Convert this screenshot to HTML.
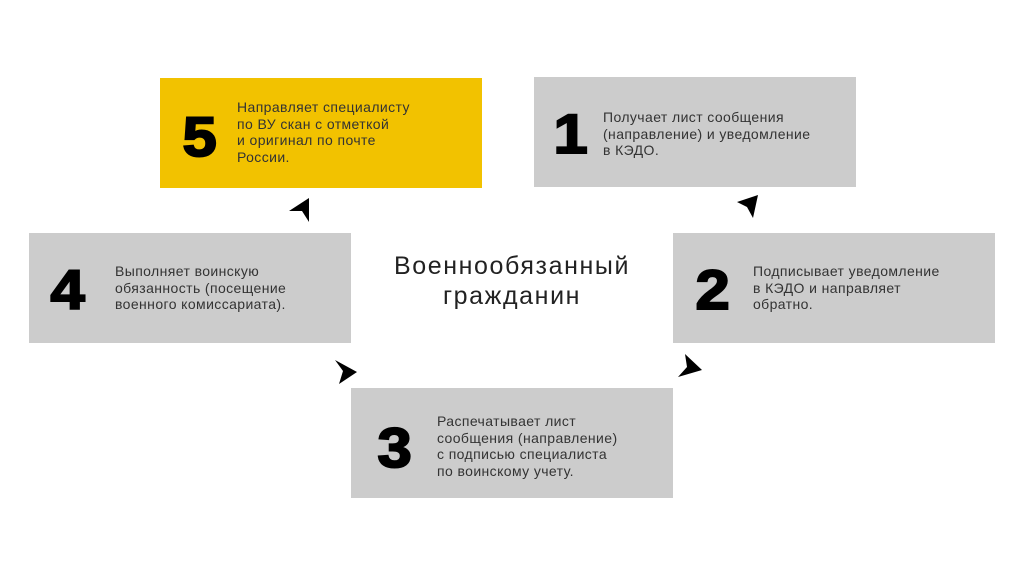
<!DOCTYPE html>
<html><head><meta charset="utf-8"><style>
body{margin:0;width:1024px;height:576px;background:#fff;position:relative;overflow:hidden;font-family:"Liberation Sans","DejaVu Sans",sans-serif}
.b{position:absolute;width:322px;height:110px;background:#cccccc}
.y{background:#f2c200}
.n{position:absolute;font-weight:bold;font-size:56px;color:#000;line-height:56px;transform:scaleX(1.1);-webkit-text-stroke:2px #000}
.t{position:absolute;font-size:14px;letter-spacing:0.4px;line-height:16.6px;color:#333;white-space:nowrap}
.c{position:absolute;left:311px;width:402px;top:251px;text-align:center;font-size:25px;line-height:30px;color:#222;letter-spacing:1.6px}
</style></head><body>
<div class="b y" style="left:160px;top:78px"></div>
<div class="b" style="left:534px;top:77px"></div>
<div class="b" style="left:29px;top:233px"></div>
<div class="b" style="left:673px;top:233px"></div>
<div class="b" style="left:351px;top:388px"></div>

<div class="n" style="left:184px;top:109px">5</div>
<div class="t" style="left:237px;top:99px">Направляет специалисту<br>по ВУ скан с отметкой<br>и оригинал по почте<br>России.</div>

<div class="n" style="left:555px;top:106px">1</div>
<div class="t" style="left:603px;top:109px">Получает лист сообщения<br>(направление) и уведомление<br>в КЭДО.</div>

<div class="n" style="left:52px;top:262px">4</div>
<div class="t" style="left:115px;top:263px">Выполняет воинскую<br>обязанность (посещение<br>военного комиссариата).</div>

<div class="n" style="left:697px;top:262px">2</div>
<div class="t" style="left:753px;top:263px">Подписывает уведомление<br>в КЭДО и направляет<br>обратно.</div>

<div class="n" style="left:379px;top:420px">3</div>
<div class="t" style="left:437px;top:413px">Распечатывает лист<br>сообщения (направление)<br>с подписью специалиста<br>по воинскому учету.</div>

<div class="c">Военнообязанный<br>гражданин</div>

<svg width="1024" height="576" style="position:absolute;left:0;top:0">
<polygon points="289,211 309,198 309,222 302,211" fill="#000"/>
<polygon points="737,202 758,195 753,218 747,207" fill="#000"/>
<polygon points="335,360 357,372 339,384 343,371" fill="#000"/>
<polygon points="685,354 702,370 678,377 687,367" fill="#000"/>
</svg>
</body></html>
